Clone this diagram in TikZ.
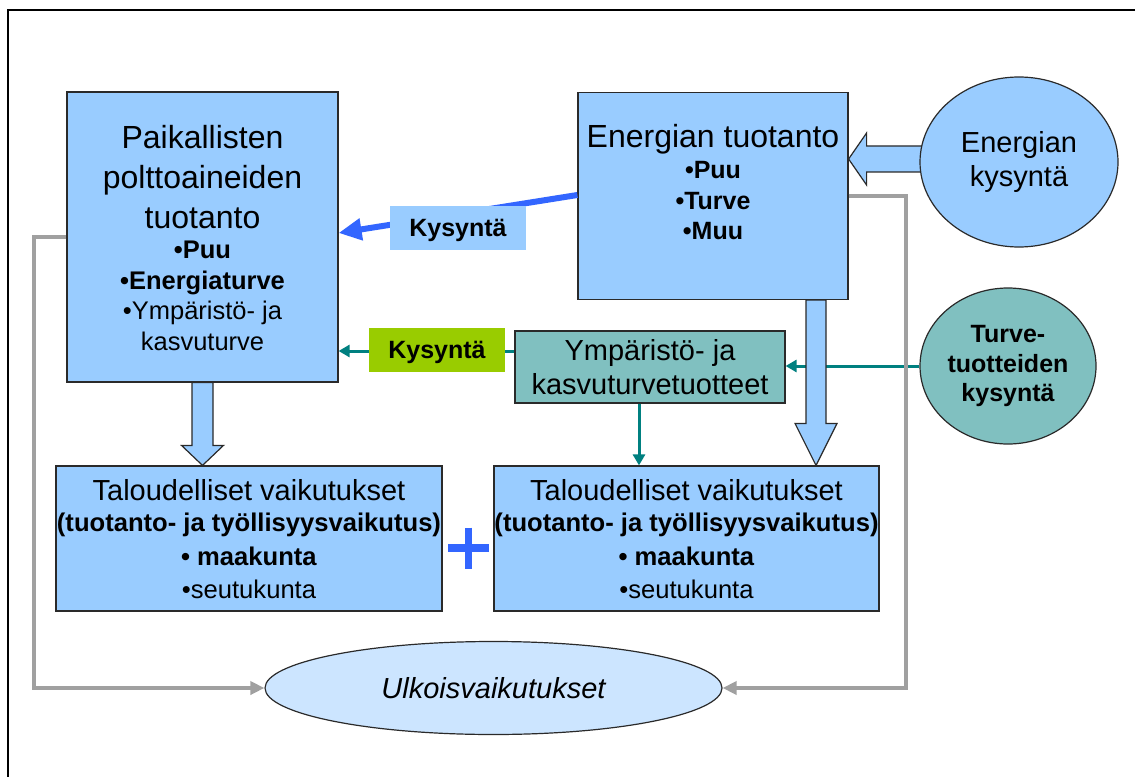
\documentclass[tikz,border=0pt]{standalone}
\usepackage{fontspec}
\setmainfont{Liberation Sans}
\usetikzlibrary{arrows.meta,calc,shapes.geometric}
\pgfdeclarelayer{background}
\pgfsetlayers{background,main}
\definecolor{lblue}{HTML}{99CCFF}
\definecolor{teal1}{HTML}{80C0C0}
\definecolor{tealline}{HTML}{008080}
\definecolor{kgreen}{HTML}{99CC00}
\definecolor{barrow}{HTML}{3366FF}
\definecolor{glinec}{HTML}{A0A0A0}
\definecolor{ellfill}{HTML}{CCE5FF}
\definecolor{bord}{HTML}{2A2A2A}
\newcommand{\fsz}[2]{\fontsize{#1}{#2}\selectfont}
\begin{document}
\begin{tikzpicture}[x=1pt,y=-1pt,
  box/.style={draw=bord,line width=1.2pt,fill=lblue,inner sep=0pt},
  txt/.style={align=center,inner sep=0pt,text=black},
  lab/.style={inner sep=0pt,text depth=0pt,font=\fsz{25}{30}\bfseries,minimum width=136pt,minimum height=44pt},
  gline/.style={draw=glinec,line width=4pt,line join=miter,-{Triangle[length=14pt,width=13pt]}},
  tline/.style={draw=tealline,line width=3pt,-{Triangle[length=11pt,width=12pt]}},
  blk/.style={fill=lblue,draw=bord,line width=1.2pt,line join=miter},
  plusbar/.style={draw=barrow,line width=7.5pt}
]
\useasboundingbox (0,0) rectangle (1137,778);
% frame
\draw[line width=2pt] (1135,10) -- (8,10) -- (8,777);

% main boxes
\node[box,minimum width=271pt,minimum height=290pt] (lb) at (202.5,237) {};
\node[txt,anchor=north,font=\fsz{32}{40}] (lbtitle) at (202.5,125.1) {Paikallisten\\polttoaineiden\\tuotanto};
\node[txt,anchor=north,font=\fsz{25.5}{30.7}] (lbbul) at (202.5,240.7) {\textbf{•Puu}\\\textbf{•Energiaturve}\\•Ympäristö- ja\\kasvuturve};

\node[box,minimum width=270pt,minimum height=207pt] (et) at (713,196) {};
\node[txt,anchor=north,font=\fsz{32}{40}] (ettitle) at (713,123.8) {Energian tuotanto};
\node[txt,anchor=north,font=\fsz{25}{30.5}\bfseries] (etbul) at (713,161.1) {•Puu\\•Turve\\•Muu};

\node[box,ellipse,minimum width=198pt,minimum height=170pt,align=center,font=\fsz{29}{34}] (ek) at (1019,162) {Energian\\kysyntä};
\node[box,ellipse,fill=teal1,minimum width=176pt,minimum height=156pt,align=center,font=\fsz{25}{29.5}\bfseries] (tc) at (1008,366) {Turve-\\tuotteiden\\kysyntä};

\node[box,fill=teal1,minimum width=270pt,minimum height=72pt,align=center,font=\fsz{29}{33.3}] (tb) at (650,367) {Ympäristö- ja\\kasvuturvetuotteet};

\node[box,minimum width=386pt,minimum height=145pt] (b1) at (249,538.5) {};
\node[txt,anchor=base,font=\fsz{29}{34}] (b1t) at (249,500) {Taloudelliset vaikutukset};
\node[txt,anchor=north,font=\fsz{25.6}{33.3}] (b1b) at (249,513) {\textbf{(tuotanto- ja työllisyysvaikutus)}\\\textbf{• maakunta}\\•seutukunta};

\node[box,minimum width=385pt,minimum height=145pt] (b2) at (686.5,538.5) {};
\node[txt,anchor=base,font=\fsz{29}{34}] (b2t) at (686.5,500) {Taloudelliset vaikutukset};
\node[txt,anchor=north,font=\fsz{25.6}{33.3}] (b2b) at (686.5,513) {\textbf{(tuotanto- ja työllisyysvaikutus)}\\\textbf{• maakunta}\\•seutukunta};

% plus sign between the two result boxes
\coordinate (plus) at (468.5,548);
\draw[plusbar] ($(plus)+(-20.5,0)$) -- ($(plus)+(20.5,0)$);
\draw[plusbar] ($(plus)+(0,-20.5)$) -- ($(plus)+(0,20.5)$);

\node[box,ellipse,fill=ellfill,minimum width=457pt,minimum height=93pt,font=\fsz{29}{34}\itshape] (ul) at (493.5,688) {Ulkoisvaikutukset};

% gray connectors
\draw[gline] (lb.west) -- ++(-32,0) |- (ul.west);
\draw[gline] (et.east) -- ++(57,0) |- (ul.east);

% blue demand arrow
\draw[draw=barrow,line width=6pt,-{Triangle[length=23pt,width=21pt]}] ($(et.west)+(0,-1)$) -- ($(lb.east)+(0,-4)$);
\node[lab,fill=lblue] (k1) at (458,228) {Kysyntä};

% teal connectors
\coordinate (tk) at ($(tb.west)+(0,-16)$);
\draw[tline] (tk) -- (tk -| lb.east);
\node[lab,fill=kgreen] (k2) at (437,350) {Kysyntä};
\coordinate (td) at ($(tb.south)+(-11,0)$);
\draw[tline] (td) -- (td |- b2.north);

\begin{pgfonlayer}{background}
\fill[white] (0,0) rectangle (1137,778);
\draw[tline] (tc.west) -- (tc.west -| tb.east);
% block arrow lb -> b1
\coordinate (a1s) at (lb.south);
\coordinate (a1t) at (lb.south |- b1.north);
\filldraw[blk] ($(a1s)+(-10.5,0)$) -- ($(a1t)+(-10.5,-20)$) -- ($(a1t)+(-21,-20)$) -- (a1t) -- ($(a1t)+(21,-20)$) -- ($(a1t)+(10.5,-20)$) -- ($(a1s)+(10.5,0)$) -- cycle;
% block arrow et -> b2
\coordinate (a2s) at ($(et.south)+(103,0)$);
\coordinate (a2t) at (a2s |- b2.north);
\filldraw[blk] ($(a2s)+(-10,0)$) -- ($(a2t)+(-10,-42)$) -- ($(a2t)+(-21,-42)$) -- (a2t) -- ($(a2t)+(21,-42)$) -- ($(a2t)+(10,-42)$) -- ($(a2s)+(10,0)$) -- cycle;
% block arrow ek -> et
\coordinate (a3s) at ($(ek.west)+(6,-3)$);
\coordinate (a3t) at (et.east |- a3s);
\filldraw[blk] ($(a3s)+(0,-13)$) -- ($(a3t)+(18,-13)$) -- ($(a3t)+(18,-26)$) -- (a3t) -- ($(a3t)+(18,26)$) -- ($(a3t)+(18,13)$) -- ($(a3s)+(0,13)$) -- cycle;
\end{pgfonlayer}
\end{tikzpicture}
\end{document}
